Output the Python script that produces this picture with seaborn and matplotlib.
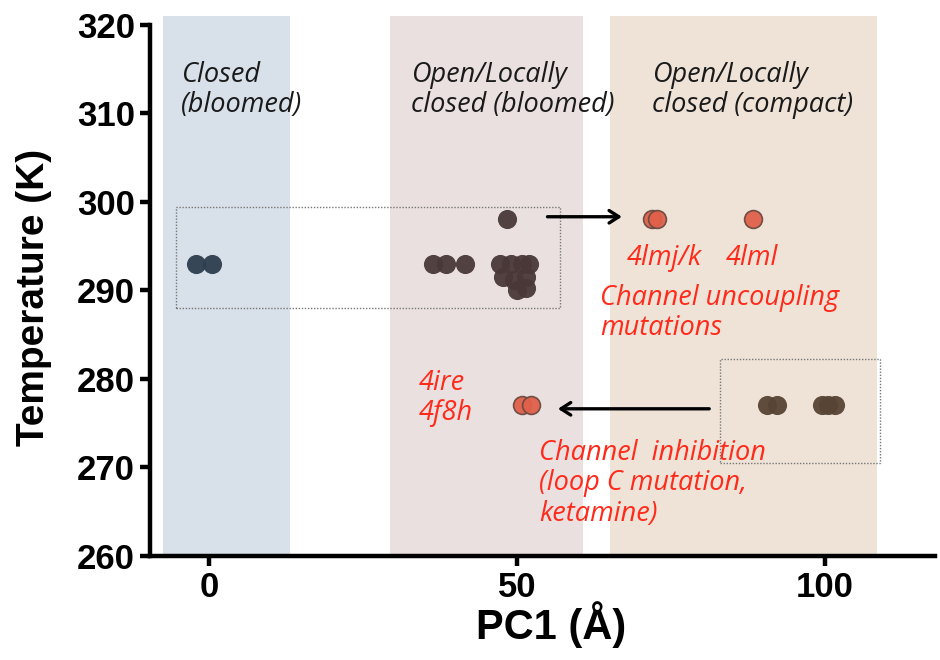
import numpy as np
import pandas as pd
import matplotlib
matplotlib.use("Agg")
import matplotlib.pyplot as plt
import seaborn as sns

# ---- data ----
closed_x = [-2.2, 0.4]
closed_t = [293, 293]
bloomed_x = [36.4, 38.4, 41.5, 48.4, 47.2, 49.0, 50.8, 52.0, 47.8, 49.5, 51.5, 50.0, 51.4]
bloomed_t = [293, 293, 293, 298, 293, 293, 293, 293, 291.5, 291.2, 291.5, 290.0, 290.2]
uncoupling_x = [71.9, 72.8, 88.3]
uncoupling_t = [298, 298, 298]
inhibition_x = [50.8, 52.3]
inhibition_t = [277, 277]
compact_x = [90.7, 92.3, 99.6, 100.6, 101.7]
compact_t = [277, 277, 277, 277, 277]

band_labels = ["Closed\n(bloomed)", "Open/Locally\nclosed (bloomed)", "Open/Locally\nclosed (compact)"]
band_ranges = [(-7.5, 13.1), (29.4, 60.7), (65.1, 108.6)]
band_colors = ["#d8e0ea", "#ebe0e0", "#efe3d8"]
x_ticks = [0, 50, 100]
y_ticks = [260, 270, 280, 290, 300, 310, 320]

groups = ["closed", "bloomed", "uncoupling", "inhibition", "compact"]
frames = []
for g, xs, ts in [("closed", closed_x, closed_t), ("bloomed", bloomed_x, bloomed_t),
                  ("uncoupling", uncoupling_x, uncoupling_t),
                  ("inhibition", inhibition_x, inhibition_t),
                  ("compact", compact_x, compact_t)]:
    frames.append(pd.DataFrame({"PC1": xs, "T": ts, "group": g}))
df = pd.concat(frames, ignore_index=True)
palette = {"closed": "#2e3e4e", "bloomed": "#4a3838", "uncoupling": "#e0604a",
           "inhibition": "#e0604a", "compact": "#574434"}

sns.set_style("white")
plt.rcParams["font.family"] = ["Liberation Sans", "DejaVu Sans"]
plt.rcParams["text.color"] = "black"
plt.rcParams["axes.labelcolor"] = "black"
plt.rcParams["xtick.color"] = "black"
plt.rcParams["ytick.color"] = "black"

fig = plt.figure(figsize=(9.4, 6.6), dpi=100)
ax = fig.add_axes([0.16, 0.158, 0.835, 0.818])

for (x0, x1), c in zip(band_ranges, band_colors):
    ax.axvspan(x0, x1, ymin=0, ymax=1, color=c, zorder=0, lw=0)

# points
for g in groups:
    sub = df[df.group == g]
    red = g in ("uncoupling", "inhibition")
    sns.scatterplot(data=sub, x="PC1", y="T", color=palette[g], s=190 if not red else 165,
                    edgecolor="#6a4a40" if red else palette[g], linewidth=1.2 if red else 0,
                    alpha=0.95, ax=ax, zorder=3, legend=False)

# dotted boxes
ax.add_patch(plt.Rectangle((-5.4, 288.0), 62.4, 11.4, fill=False, ls=(0, (1, 1.2)),
                           lw=1.0, ec="#777777", zorder=2))
ax.add_patch(plt.Rectangle((83.0, 270.5), 26.0, 11.7, fill=False, ls=(0, (1, 1.2)),
                           lw=1.0, ec="#777777", zorder=2))

# arrows
ax.annotate("", xy=(67.5, 298.3), xytext=(54.5, 298.3),
            arrowprops=dict(arrowstyle="->,head_length=0.7,head_width=0.45", lw=2.4, color="black"), zorder=4)
ax.annotate("", xy=(56.2, 276.6), xytext=(81.7, 276.6),
            arrowprops=dict(arrowstyle="->,head_length=0.7,head_width=0.45", lw=2.4, color="black"), zorder=4)

it_font = ["Open Sans", "DejaVu Sans"]
# band labels
lab_x = [-4.6, 32.7, 71.9]
for lx, t in zip(lab_x, band_labels):
    ax.text(lx, 315.9, t, style="italic", fontsize=19.5, color="#1a1a1a", va="top", ha="left",
            linespacing=1.12, family=it_font)

red = "#ff2a1a"
fs = 19.5
ax.text(67.8, 293.6, "4lmj/k", color=red, style="italic", fontsize=fs, ha="left", va="center",
        family=it_font)
ax.text(84.0, 293.6, "4lml", color=red, style="italic", fontsize=fs, ha="left", va="center",
        family=it_font)
ax.text(63.5, 287.4, "Channel uncoupling\nmutations", color=red, style="italic", fontsize=fs,
        ha="left", va="center", linespacing=1.12, family=it_font)
ax.text(34.0, 277.8, "4ire\n4f8h", color=red, style="italic", fontsize=fs,
        ha="left", va="center", linespacing=1.12, family=it_font)
ax.text(53.6, 268.2, "Channel  inhibition\n(loop C mutation,\nketamine)", color=red, style="italic",
        fontsize=fs, ha="left", va="center", linespacing=1.12, family=it_font)

ax.set_xlim(-9.6, 118)
ax.set_ylim(260, 321)
ax.set_xticks(x_ticks)
ax.set_yticks(y_ticks)
ax.set_xticklabels([str(v) for v in x_ticks], fontsize=25, fontweight="bold")
ax.set_yticklabels([str(v) for v in y_ticks], fontsize=25, fontweight="bold")
ax.set_xlabel("PC1 (Å)", fontsize=30, fontweight="bold")
ax.set_ylabel("Temperature (K)", fontsize=28, fontweight="bold")
ax.xaxis.set_label_coords(0.51, -0.085)
ax.yaxis.set_label_coords(-0.125, 0.478)

sns.despine(ax=ax)
for s in ("left", "bottom"):
    ax.spines[s].set_linewidth(3.2)
    ax.spines[s].set_color("black")
ax.spines["left"].set_bounds(260, 320)
ax.tick_params(axis="both", which="major", direction="out", length=7, width=3.2,
               color="black", pad=4, left=True, bottom=True)
ax.grid(False)

fig.savefig("out.png", dpi=100)
